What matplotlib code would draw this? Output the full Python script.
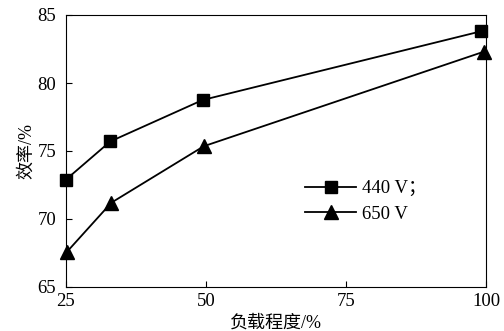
import matplotlib
matplotlib.use('Agg')
import matplotlib.pyplot as plt

plt.rcParams['font.family'] = ['Liberation Serif', 'Noto Sans CJK SC']
plt.rcParams['font.size'] = 13

loads_440 = [25, 32.9, 49.4, 99.1]
eff_440 = [72.9, 75.7, 78.75, 83.8]
loads_650 = [25.2, 33.1, 49.6, 99.6]
eff_650 = [67.6, 71.2, 75.35, 82.3]
xticks = [25, 50, 75, 100]
yticks = [65, 70, 75, 80, 85]

fig = plt.figure(figsize=(5.04, 3.31), dpi=100)
ax = fig.add_axes([66/504, 1 - 287/331, 420/504, 272/331])

ax.plot(loads_440, eff_440, 'ks-', lw=1.3, ms=8.5, clip_on=False, label='440 V；')
ax.plot(loads_650, eff_650, 'k^-', lw=1.3, ms=9.5, clip_on=False, label='650 V')

ax.set_xlim(25, 100)
ax.set_ylim(65, 85)
ax.set_xticks(xticks)
ax.set_yticks(yticks)
ax.tick_params(direction='in', length=4, width=0.8, labelsize=13.5)
ax.tick_params(axis='x', pad=4)
ax.tick_params(axis='y', pad=7)
for s in ax.spines.values():
    s.set_linewidth(0.8)

ax.set_xlabel('负载程度/%', fontsize=13, labelpad=4)
ax.set_ylabel('效率/%', fontsize=13, labelpad=2)

ax.legend(loc='upper left', bbox_to_anchor=(0.53, 0.455), frameon=False,
          handlelength=2.7, handletextpad=0.3, labelspacing=0.45, fontsize=13.5)

fig.savefig('out.png', dpi=100)
